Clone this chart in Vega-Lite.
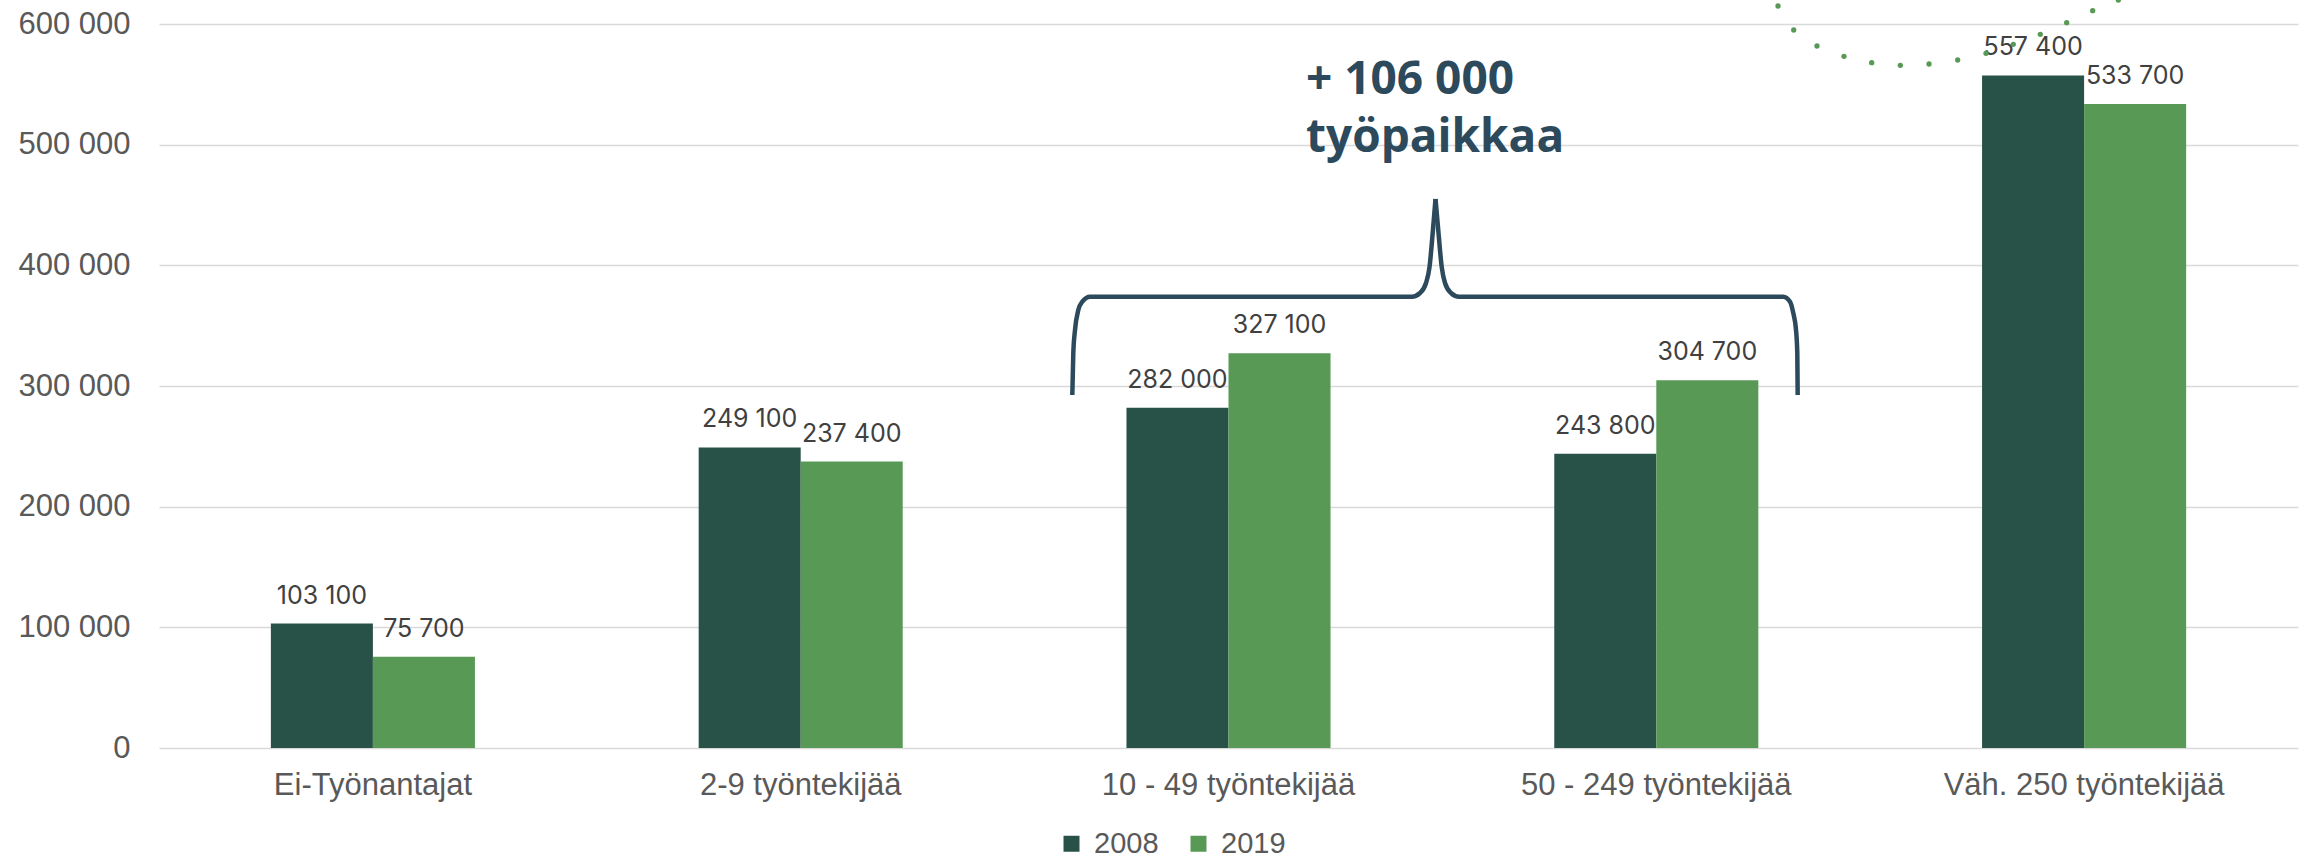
{
  "$schema": "https://vega.github.io/schema/vega-lite/v6.json",
  "width": 2139,
  "height": 724,
  "autosize": {"type": "none"},
  "padding": {"left": 159, "top": 24, "right": 7, "bottom": 110},
  "background": "white",
  "config": {"view": {"stroke": null}},
  "datasets": {
    "bars": [
      {"cat": "Ei-Työnantajat", "year": "2008", "value": 103100, "label": "103 100"},
      {"cat": "Ei-Työnantajat", "year": "2019", "value": 75700, "label": "75 700"},
      {"cat": "2-9 työntekijää", "year": "2008", "value": 249100, "label": "249 100"},
      {"cat": "2-9 työntekijää", "year": "2019", "value": 237400, "label": "237 400"},
      {"cat": "10 - 49 työntekijää", "year": "2008", "value": 282000, "label": "282 000"},
      {"cat": "10 - 49 työntekijää", "year": "2019", "value": 327100, "label": "327 100"},
      {"cat": "50 - 249 työntekijää", "year": "2008", "value": 243800, "label": "243 800"},
      {"cat": "50 - 249 työntekijää", "year": "2019", "value": 304700, "label": "304 700"},
      {"cat": "Väh. 250 työntekijää", "year": "2008", "value": 557400, "label": "557 400"},
      {"cat": "Väh. 250 työntekijää", "year": "2019", "value": 533700, "label": "533 700"}
    ],
    "brace": [
      {"seg": "a", "i": 1, "cx": 2.1349, "value": 292542},
      {"seg": "a", "i": 2, "cx": 2.1372, "value": 327100},
      {"seg": "a", "i": 3, "cx": 2.1412, "value": 346409},
      {"seg": "a", "i": 4, "cx": 2.1489, "value": 362984},
      {"seg": "a", "i": 5, "cx": 2.1583, "value": 369862},
      {"seg": "a", "i": 6, "cx": 2.1763, "value": 374006},
      {"seg": "a", "i": 7, "cx": 2.9289, "value": 374006},
      {"seg": "a", "i": 8, "cx": 2.9476, "value": 377072},
      {"seg": "a", "i": 9, "cx": 2.9617, "value": 385359},
      {"seg": "a", "i": 10, "cx": 2.9699, "value": 398619},
      {"seg": "a", "i": 11, "cx": 2.9773, "value": 426796},
      {"seg": "a", "i": 12, "cx": 2.9839, "value": 454973},
      {"seg": "b", "i": 1, "cx": 2.9839, "value": 454973},
      {"seg": "b", "i": 2, "cx": 2.9909, "value": 426796},
      {"seg": "b", "i": 3, "cx": 2.9984, "value": 398619},
      {"seg": "b", "i": 4, "cx": 3.0061, "value": 385359},
      {"seg": "b", "i": 5, "cx": 3.0201, "value": 377072},
      {"seg": "b", "i": 6, "cx": 3.0388, "value": 374006},
      {"seg": "b", "i": 7, "cx": 3.7969, "value": 374006},
      {"seg": "b", "i": 8, "cx": 3.8126, "value": 369862},
      {"seg": "b", "i": 9, "cx": 3.8203, "value": 360249},
      {"seg": "b", "i": 10, "cx": 3.8266, "value": 346409},
      {"seg": "b", "i": 11, "cx": 3.8296, "value": 327100},
      {"seg": "b", "i": 12, "cx": 3.8305, "value": 292542}
    ],
    "dots": [
      {"cx": 3.7845, "value": 614918},
      {"cx": 3.8212, "value": 595028},
      {"cx": 3.8756, "value": 581768},
      {"cx": 3.9387, "value": 573233},
      {"cx": 4.0035, "value": 567929},
      {"cx": 4.0704, "value": 565774},
      {"cx": 4.1375, "value": 566851},
      {"cx": 4.2045, "value": 570166},
      {"cx": 4.2707, "value": 575719},
      {"cx": 4.3345, "value": 583177},
      {"cx": 4.3976, "value": 591465},
      {"cx": 4.4593, "value": 601078},
      {"cx": 4.5201, "value": 611023},
      {"cx": 4.58, "value": 619890}
    ],
    "note": [
      {"cx": 2.6812, "value": 541989, "t": "+ 106 000"},
      {"cx": 2.6812, "value": 493923, "t": "työpaikkaa"}
    ]
  },
  "encoding": {
    "y": {
      "field": "value", "type": "quantitative",
      "scale": {"domain": [0, 600000], "nice": false},
      "axis": {
        "title": null, "values": [0, 100000, 200000, 300000, 400000, 500000, 600000],
        "labelExpr": "replace(format(datum.value, ','), regexp(',', 'g'), ' ')",
        "domain": false, "ticks": false, "tickSize": 0, "labelPadding": 29,
        "labelFont": "Liberation Sans", "labelFontSize": 31, "labelColor": "#595959",
        "grid": true, "gridColor": "#D9D9D9", "gridWidth": 1.5
      }
    }
  },
  "layer": [
    {
      "data": {"name": "bars"},
      "encoding": {
        "x": {
          "field": "cat", "type": "nominal",
          "sort": ["Ei-Työnantajat", "2-9 työntekijää", "10 - 49 työntekijää", "50 - 249 työntekijää", "Väh. 250 työntekijää"],
          "scale": {"paddingInner": 0.523, "paddingOuter": 0.2615},
          "axis": {
            "title": null, "labelAngle": 0, "domain": false, "ticks": false, "tickSize": 0,
            "labelPadding": 46, "labelBaseline": "alphabetic", "labelLimit": 0,
            "labelFont": "Liberation Sans", "labelFontSize": 31, "labelColor": "#595959",
            "grid": false
          }
        },
        "xOffset": {"field": "year", "type": "nominal", "scale": {"paddingInner": 0, "paddingOuter": 0}}
      },
      "layer": [
        {
          "mark": {"type": "bar"},
          "encoding": {
            "color": {
              "field": "year", "type": "nominal",
              "scale": {"domain": ["2008", "2019"], "range": ["#285248", "#589956"]},
              "legend": {
                "title": null, "orient": "none", "direction": "horizontal",
                "legendX": 898, "legendY": 805, "padding": 0,
                "symbolType": "square", "symbolSize": 256, "symbolStrokeWidth": 0,
                "labelFont": "Liberation Sans", "labelFontSize": 29, "labelColor": "#595959",
                "labelOffset": 8, "columnPadding": 25
              }
            }
          }
        },
        {
          "mark": {"type": "text", "baseline": "alphabetic", "align": "center", "dy": -20, "font": "Inter", "fontSize": 25, "color": "#404040"},
          "encoding": {"text": {"field": "label"}}
        }
      ]
    },
    {
      "data": {"name": "brace"},
      "mark": {"type": "line", "interpolate": "monotone", "color": "#2C4A5B", "strokeWidth": 4.5, "strokeCap": "butt"},
      "encoding": {
        "x": {"field": "cx", "type": "quantitative", "scale": {"domain": [0, 5], "nice": false, "zero": false}, "axis": null},
        "detail": {"field": "seg"},
        "order": {"field": "i", "type": "quantitative"}
      }
    },
    {
      "data": {"name": "note"},
      "mark": {"type": "text", "align": "left", "baseline": "alphabetic", "font": "Open Sans", "fontWeight": "bold", "fontSize": 46, "color": "#2C4A5B"},
      "encoding": {
        "x": {"field": "cx", "type": "quantitative", "scale": {"domain": [0, 5], "nice": false, "zero": false}, "axis": null},
        "text": {"field": "t"}
      }
    },
    {
      "data": {"name": "dots"},
      "mark": {"type": "circle", "size": 28, "opacity": 1, "color": "#589956"},
      "encoding": {
        "x": {"field": "cx", "type": "quantitative", "scale": {"domain": [0, 5], "nice": false, "zero": false}, "axis": null}
      }
    }
  ],
  "resolve": {"scale": {"x": "independent"}}
}
